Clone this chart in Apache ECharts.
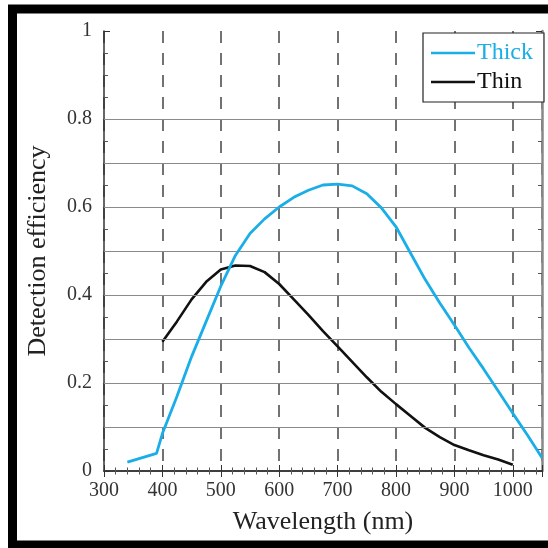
<!DOCTYPE html>
<html>
<head>
<meta charset="utf-8">
<script src="https://cdn.jsdelivr.net/npm/echarts@6/dist/echarts.min.js"></script>
<style>
html,body{margin:0;padding:0;background:#fff;}
#c{width:548px;height:548px;}
</style>
</head>
<body>
<div id="c"></div>
<script>
// ---- data ----
const thickWavelengths = [340, 390, 400, 425, 450, 475, 500, 525, 550, 575, 600, 625, 650, 675, 700, 725, 750, 775, 800, 825, 850, 875, 900, 925, 950, 975, 1000, 1025, 1050];
const thickValues      = [0.02, 0.04, 0.085, 0.17, 0.26, 0.34, 0.42, 0.49, 0.54, 0.573, 0.60, 0.622, 0.638, 0.65, 0.652, 0.648, 0.63, 0.598, 0.555, 0.495, 0.435, 0.382, 0.332, 0.28, 0.232, 0.182, 0.131, 0.082, 0.03];
const thinWavelengths  = [400, 425, 450, 475, 500, 525, 550, 575, 600, 625, 650, 675, 700, 725, 750, 775, 800, 825, 850, 875, 900, 925, 950, 975, 1000];
const thinValues       = [0.294, 0.34, 0.39, 0.43, 0.458, 0.467, 0.466, 0.452, 0.425, 0.39, 0.355, 0.318, 0.283, 0.248, 0.213, 0.18, 0.152, 0.125, 0.098, 0.077, 0.059, 0.047, 0.036, 0.026, 0.014];
const seriesNames      = ['Thick', 'Thin'];
const hGridValues      = [0.1, 0.2, 0.3, 0.4, 0.5, 0.6, 0.7, 0.8];

const BLUE = '#1AAEE8';
const FONT = 'Liberation Serif';

const zip = (xs, ys) => xs.map((x, i) => [x, ys[i]]);

const chart = echarts.init(document.getElementById('c'), null, {renderer: 'canvas'});
const commonTick = {show: true, inside: true, length: 6, lineStyle: {color: '#333', width: 1}};
chart.setOption({
  animation: false,
  backgroundColor: '#fff',
  grid: {left: 104, right: 6, top: 31, bottom: 77, containLabel: false},
  legend: {
    orient: 'vertical',
    left: 423, top: 33,
    padding: [8, 11, 8, 8],
    backgroundColor: '#fff',
    borderColor: '#222', borderWidth: 1.2,
    icon: 'rect', itemWidth: 44, itemHeight: 2.5, itemGap: 5,
    textStyle: {fontFamily: FONT, fontSize: 24, padding: [0, 0, 0, -3]},
    data: [
      {name: seriesNames[0], textStyle: {color: BLUE}},
      {name: seriesNames[1], textStyle: {color: '#111'}}
    ],
    selectedMode: false
  },
  xAxis: [{
    type: 'value', position: 'bottom', min: 300, max: 1050, interval: 100,
    name: 'Wavelength (nm)', nameLocation: 'middle', nameGap: 38,
    nameTextStyle: {fontFamily: FONT, fontSize: 26, color: '#222'},
    axisLine: {show: true, lineStyle: {color: '#333', width: 1.5}},
    axisTick: commonTick,
    minorTick: {show: true, splitNumber: 5, length: 3.5, lineStyle: {color: '#555', width: 1}},
    axisLabel: {fontFamily: FONT, fontSize: 20, color: '#333', margin: 10, showMaxLabel: false,
                formatter: v => String(v)},
    splitLine: {show: true, lineStyle: {color: '#444', width: 1.5, type: [12, 10]}}
  }, {
    type: 'value', position: 'top', min: 300, max: 1050, interval: 100,
    axisLine: {show: true, lineStyle: {color: '#333', width: 1.5}},
    axisTick: commonTick,
    minorTick: {show: true, splitNumber: 5, length: 3.5, lineStyle: {color: '#555', width: 1}},
    axisLabel: {show: false}, splitLine: {show: false}
  }],
  yAxis: [{
    type: 'value', position: 'left', min: 0, max: 1, interval: 0.2,
    name: 'Detection efficiency', nameLocation: 'middle', nameGap: 53, nameRotate: 90,
    nameTextStyle: {fontFamily: FONT, fontSize: 26, color: '#222'},
    axisLine: {show: true, lineStyle: {color: '#333', width: 1.5}},
    axisTick: commonTick,
    minorTick: {show: true, splitNumber: 4, length: 4, lineStyle: {color: '#555', width: 1}},
    axisLabel: {fontFamily: FONT, fontSize: 20, color: '#333', margin: 12},
    splitLine: {show: false}
  }, {
    type: 'value', position: 'right', min: 0, max: 1, interval: 0.2,
    axisLine: {show: true, lineStyle: {color: '#888', width: 2.5}},
    axisTick: commonTick,
    minorTick: {show: true, splitNumber: 4, length: 4, lineStyle: {color: '#555', width: 1}},
    axisLabel: {show: false}, splitLine: {show: false}
  }],
  series: [{
    name: seriesNames[0], type: 'line', data: zip(thickWavelengths, thickValues),
    showSymbol: false, symbol: 'none', smooth: false,
    lineStyle: {color: BLUE, width: 2.8}, itemStyle: {color: BLUE}, z: 5,
    markLine: {
      silent: true, symbol: 'none', label: {show: false}, animation: false,
      lineStyle: {color: '#8a8a8a', width: 1.2, type: 'solid'},
      data: hGridValues.map(v => ({yAxis: v}))
    }
  }, {
    name: seriesNames[1], type: 'line', data: zip(thinWavelengths, thinValues),
    showSymbol: false, symbol: 'none', smooth: false,
    lineStyle: {color: '#111', width: 2.6}, itemStyle: {color: '#111'}, z: 4
  }],
  graphic: [{
    type: 'rect', silent: true, z: 100,
    shape: {x: 12.5, y: 9, width: 580, height: 536},
    style: {fill: 'none', stroke: '#000', lineWidth: 9}
  }]
});
</script>
</body>
</html>
